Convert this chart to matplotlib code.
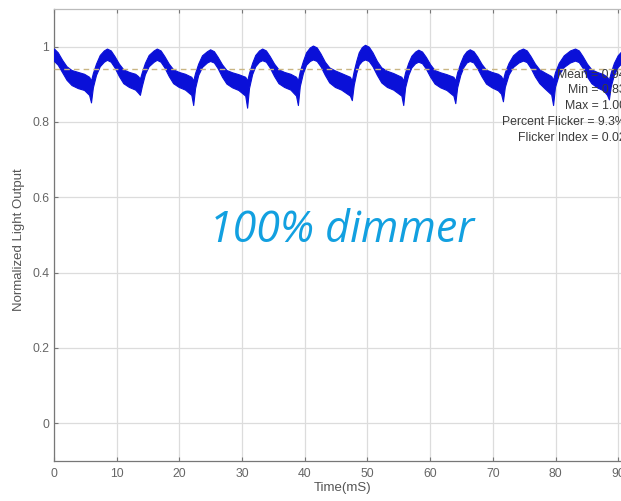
import matplotlib
matplotlib.use("Agg")
import matplotlib.pyplot as plt

# Time samples (ms) and upper / lower envelope of the measured light-output band
t = [0, 0.6, 1.3, 2.0, 2.8, 3.8, 4.8,
     5.6, 5.9, 6.2, 6.7, 7.3, 7.95, 8.45, 9.05, 9.65, 10.35, 11.05, 11.95, 12.95, 13.4,
     13.7, 14.0, 14.5, 15.1, 15.9, 16.4, 17.0, 17.6, 18.3, 19.0, 19.9, 20.9, 21.9,
     22.2, 22.5, 23.0, 23.6, 24.4, 24.9, 25.5, 26.1, 26.8, 27.5, 28.4, 29.4, 30.5,
     30.8, 31.1, 31.6, 32.1, 32.7, 33.2, 33.8, 34.4, 35.1, 35.8, 36.7, 37.7, 38.6,
     38.9, 39.2, 39.7, 40.2, 40.8, 41.3, 41.9, 42.5, 43.2, 43.9, 44.8, 45.8, 47.2,
     47.5, 47.8, 48.2, 48.6, 49.1, 49.6, 50.2, 50.8, 51.5, 52.2, 53.1, 54.1, 55.4,
     55.7, 56.0, 56.5, 57.0, 57.6, 58.1, 58.7, 59.3, 60.0, 60.7, 61.6, 62.6, 63.7,
     64.0, 64.3, 64.8, 65.3, 65.8, 66.3, 66.9, 67.5, 68.2, 68.9, 69.8, 70.8, 71.3,
     71.6, 71.9, 72.5, 73.2, 74.1, 74.8, 75.4, 76.0, 76.7, 77.4, 78.2, 79.3,
     79.6, 79.9, 80.5, 81.3, 82.3, 83.1, 83.7, 84.3, 85.0, 85.7, 86.6, 87.6, 88.2,
     88.5, 88.8, 89.3, 89.9, 90.6, 91.3]

upper = [0.995, 0.985, 0.965, 0.948, 0.938, 0.933, 0.928,
         0.920, 0.910, 0.930, 0.955, 0.978, 0.990, 0.995, 0.990, 0.975, 0.955, 0.940, 0.933, 0.928, 0.922,
         0.915, 0.932, 0.957, 0.978, 0.990, 0.995, 0.990, 0.975, 0.955, 0.940, 0.933, 0.928, 0.920,
         0.910, 0.930, 0.955, 0.977, 0.988, 0.993, 0.988, 0.973, 0.953, 0.938, 0.932, 0.927, 0.920,
         0.910, 0.930, 0.957, 0.978, 0.990, 0.995, 0.990, 0.975, 0.955, 0.940, 0.933, 0.928, 0.920,
         0.910, 0.935, 0.962, 0.985, 0.998, 1.003, 0.998, 0.982, 0.960, 0.945, 0.937, 0.930, 0.920,
         0.910, 0.935, 0.962, 0.985, 0.999, 1.005, 1.000, 0.985, 0.962, 0.945, 0.936, 0.930, 0.920,
         0.910, 0.932, 0.957, 0.976, 0.987, 0.992, 0.987, 0.973, 0.953, 0.938, 0.932, 0.927, 0.920,
         0.910, 0.932, 0.957, 0.977, 0.988, 0.993, 0.988, 0.974, 0.954, 0.939, 0.933, 0.928, 0.922,
         0.912, 0.932, 0.957, 0.977, 0.990, 0.995, 0.990, 0.975, 0.955, 0.940, 0.932, 0.922,
         0.912, 0.932, 0.957, 0.977, 0.990, 0.995, 0.990, 0.975, 0.955, 0.940, 0.933, 0.927, 0.920,
         0.912, 0.932, 0.957, 0.977, 0.990, 0.995]

lower = [0.962, 0.952, 0.932, 0.912, 0.898, 0.890, 0.885,
         0.872, 0.852, 0.892, 0.925, 0.948, 0.960, 0.965, 0.960, 0.945, 0.922, 0.903, 0.893, 0.886, 0.878,
         0.872, 0.895, 0.927, 0.948, 0.960, 0.965, 0.960, 0.945, 0.922, 0.903, 0.893, 0.886, 0.872,
         0.845, 0.890, 0.925, 0.946, 0.958, 0.962, 0.958, 0.943, 0.920, 0.902, 0.892, 0.885, 0.870,
         0.838, 0.890, 0.927, 0.948, 0.960, 0.964, 0.960, 0.945, 0.922, 0.903, 0.893, 0.886, 0.870,
         0.845, 0.895, 0.930, 0.952, 0.962, 0.966, 0.962, 0.948, 0.925, 0.905, 0.893, 0.886, 0.870,
         0.858, 0.898, 0.930, 0.952, 0.962, 0.966, 0.962, 0.948, 0.925, 0.905, 0.893, 0.886, 0.870,
         0.845, 0.892, 0.925, 0.945, 0.956, 0.960, 0.956, 0.942, 0.920, 0.902, 0.892, 0.885, 0.870,
         0.850, 0.892, 0.925, 0.946, 0.958, 0.962, 0.958, 0.943, 0.921, 0.902, 0.892, 0.884, 0.875,
         0.855, 0.893, 0.926, 0.946, 0.958, 0.963, 0.959, 0.944, 0.921, 0.903, 0.890, 0.873,
         0.845, 0.893, 0.926, 0.946, 0.958, 0.963, 0.959, 0.944, 0.921, 0.903, 0.892, 0.884, 0.872,
         0.860, 0.895, 0.926, 0.946, 0.958, 0.963]

mean_value = 0.94
stats_lines = ["Mean = 0.94", "Min = 0.83", "Max = 1.00",
               "Percent Flicker = 9.3%", "Flicker Index = 0.02"]
x_ticks = [0, 10, 20, 30, 40, 50, 60, 70, 80, 90]
y_ticks = [0, 0.2, 0.4, 0.6, 0.8, 1.0]
y_tick_labels = ["0", "0.2", "0.4", "0.6", "0.8", "1"]

W, H = 621, 501
fig = plt.figure(figsize=(W / 100, H / 100), dpi=100)
fig.patch.set_facecolor("white")

x_max = 92
px_per_ms = 6.27
ax_left, ax_top, ax_bottom = 54, 9, 461
ax = fig.add_axes([ax_left / W, (H - ax_bottom) / H,
                   x_max * px_per_ms / W, (ax_bottom - ax_top) / H])
ax.set_xlim(0, x_max)
ax.set_ylim(-0.1, 1.1)

ax.grid(True, color="#dcdcdc", linewidth=0.9)
ax.set_axisbelow(True)

ax.fill_between(t, lower, upper, color="#0a10d8", linewidth=0.8,
                edgecolor="#0a10d8", zorder=3)
ax.axhline(mean_value, color="#c9b583", linestyle=(0, (4, 3)), linewidth=1.0, zorder=4)

ax.set_xticks(x_ticks)
ax.set_yticks(y_ticks)
ax.set_yticklabels(y_tick_labels)
ax.tick_params(direction="in", length=3, width=0.8, colors="#777777",
               labelsize=8.8, labelcolor="#666666", top=True, right=True)
ax.tick_params(axis="x", pad=5)
for lbl in ax.get_xticklabels() + ax.get_yticklabels():
    lbl.set_fontfamily("Liberation Sans")

for side in ["left", "bottom", "top", "right"]:
    ax.spines[side].set_color("#777777")
    ax.spines[side].set_linewidth(0.9)
ax.spines["top"].set_color("#bbbbbb")

ax.set_xlabel("Time(mS)", fontsize=9.5, color="#555555", family="Liberation Sans")
ax.xaxis.set_label_coords(0.5, -(482 - 461) / 452)
ax.set_ylabel("Normalized Light Output", fontsize=9.5, color="#555555",
              family="Liberation Sans")
ax.yaxis.set_label_coords(-(54 - 25) / (x_max * px_per_ms), 0.49)

y0 = 1.0 - (75 - 47) / 376
for i, line in enumerate(stats_lines):
    ax.text(91.2, y0 - i * 15.7 / 376, line, ha="right", va="center", fontsize=8.8,
            color="#3a3a3a", family="Liberation Sans", zorder=6, clip_on=False)

fig.text(342 / W, 1 - 231 / H, "100% dimmer", ha="center", va="center",
         fontsize=31, style="italic", color="#12a0e0", family="Open Sans")

fig.savefig("out.png", dpi=100, facecolor="white")
